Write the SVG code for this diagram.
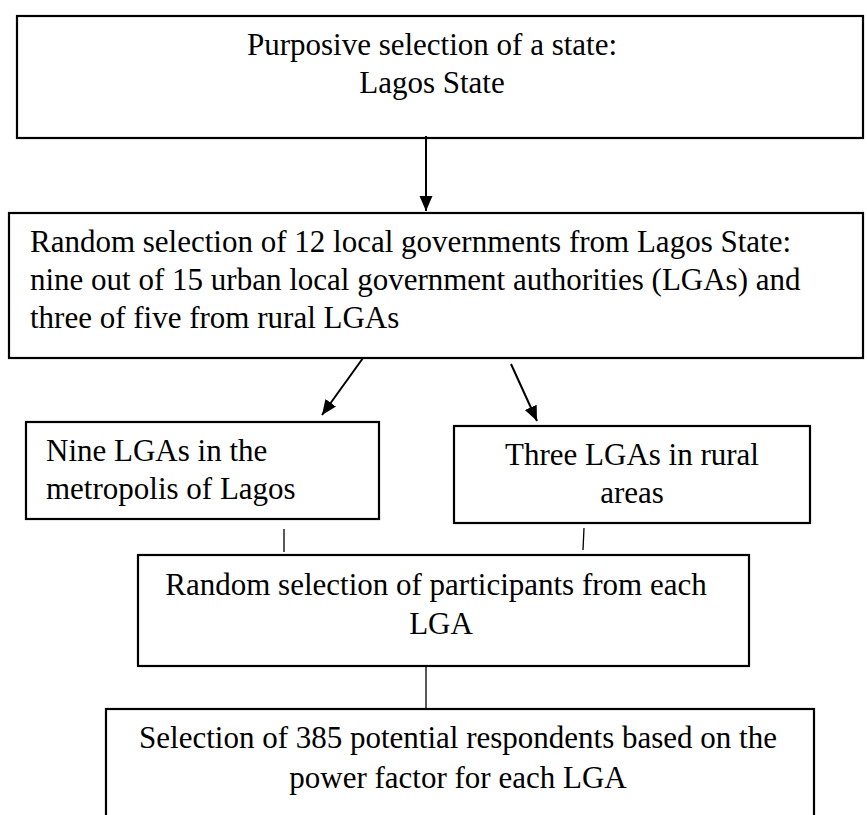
<svg xmlns="http://www.w3.org/2000/svg" width="867" height="815" viewBox="0 0 867 815">
<style>
.box{fill:#fff;stroke:#000;stroke-width:2.2}
.t{font-family:"Liberation Serif","Times New Roman",serif;font-size:31px;fill:#000}
.c{text-anchor:middle}
.conn{stroke:#000;stroke-width:2;fill:none}
.thin{stroke:#000;stroke-width:1.3;fill:none}
</style>
<defs>
<marker id="ah" markerUnits="userSpaceOnUse" markerWidth="16" markerHeight="16" viewBox="0 0 16 16" refX="15" refY="8" orient="auto">
<path d="M0,1.5 L15,8 L0,14.5 Z" fill="#000"/>
</marker>
</defs>
<rect width="867" height="815" fill="#fff"/>
<g id="n1">
<rect class="box" x="17" y="16" width="846" height="122"/>
<text class="t c" x="432" y="55">Purposive selection of a state:</text>
<text class="t c" x="432" y="93">Lagos State</text>
</g>
<g id="n2">
<rect class="box" x="9" y="213" width="854" height="145"/>
<text class="t" x="30" y="252">Random selection of 12 local governments from Lagos State:</text>
<text class="t" x="30" y="290">nine out of 15 urban local government authorities (LGAs) and</text>
<text class="t" x="30" y="328">three of five from rural LGAs</text>
</g>
<g id="n3">
<rect class="box" x="26" y="422" width="353" height="97"/>
<text class="t" x="46" y="461">Nine LGAs in the</text>
<text class="t" x="46" y="499">metropolis of Lagos</text>
</g>
<g id="n4">
<rect class="box" x="454" y="426" width="356" height="97"/>
<text class="t c" x="632" y="465">Three LGAs in rural</text>
<text class="t c" x="632" y="503">areas</text>
</g>
<g id="n5">
<rect class="box" x="138" y="555" width="611" height="111"/>
<text class="t c" x="436" y="595">Random selection of participants from each</text>
<text class="t c" x="441" y="634">LGA</text>
</g>
<g id="n6">
<rect class="box" x="106" y="709" width="708" height="120"/>
<text class="t c" x="458" y="748">Selection of 385 potential respondents based on the</text>
<text class="t c" x="458" y="788">power factor for each LGA</text>
</g>
<g id="connectors">
<line class="conn" x1="426" y1="136" x2="426" y2="211" marker-end="url(#ah)"/>
<line class="conn" x1="363" y1="358" x2="322" y2="415" marker-end="url(#ah)"/>
<line class="conn" x1="511" y1="364" x2="537" y2="421" marker-end="url(#ah)"/>
<line class="thin" x1="284" y1="529" x2="284" y2="552"/>
<line class="thin" x1="584" y1="528" x2="583" y2="550"/>
<line class="thin" x1="426" y1="666" x2="426" y2="709"/>
</g>
</svg>
